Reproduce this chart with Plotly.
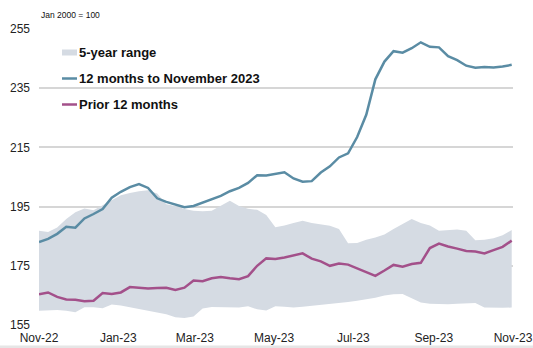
import pandas as pd
import plotly.graph_objects as go

# Weekly observations, Nov 2022 - Oct 2023 (index, Jan 2000 = 100)
dates = pd.date_range("2022-11-01", periods=53, freq="7D")

range_high = [186.8, 186.4, 187.9, 190.8, 193.1, 194.4, 193.8, 195.5, 197.2, 198.8,
              199.6, 200.2, 200.5, 199.4, 195.8, 195.2, 194.2, 193.6, 193.4, 193.6,
              195.3, 197.0, 195.2, 194.3, 193.9, 192.2, 188.0, 188.6, 189.5, 190.2,
              189.5, 189.0, 188.5, 187.4, 182.6, 182.7, 183.8, 184.6, 185.6, 187.4,
              189.1, 190.8, 189.5, 188.6, 186.8, 187.0, 187.3, 186.8, 183.6, 183.8,
              184.3, 185.3, 187.1]

range_low = [159.8, 160.0, 160.1, 159.8, 159.3, 161.0, 161.0, 160.7, 161.9, 161.6,
             161.0, 160.5, 159.8, 159.3, 158.6, 157.6, 157.4, 157.9, 160.6, 161.1,
             161.0, 160.8, 160.9, 161.3, 160.3, 159.9, 161.3, 161.2, 160.9, 161.2,
             161.5, 161.8, 162.0, 162.5, 162.8, 163.2, 163.6, 164.2, 165.0, 165.4,
             165.5, 164.0, 162.6, 162.2, 162.0, 162.0, 162.2, 162.4, 162.4, 160.9,
             160.8, 160.8, 160.9]

latest_12m = [183.0, 184.1, 185.8, 188.2, 187.9, 191.0, 192.5, 194.2, 198.0, 200.0,
              201.6, 202.6, 201.3, 197.8, 196.6, 195.8, 194.8, 195.2, 196.3, 197.4,
              198.6, 200.2, 201.3, 203.0, 205.6, 205.5, 206.0, 206.6, 204.5, 203.4,
              203.6, 206.5, 208.6, 211.6, 213.0, 218.5, 226.0, 238.0, 244.0, 247.5,
              247.0, 248.5, 250.5, 249.0, 248.8, 245.8, 244.5, 242.6, 241.9, 242.2,
              242.0, 242.3, 242.9]

prior_12m = [165.4, 166.0, 164.5, 163.6, 163.5, 163.0, 163.2, 165.8, 165.5, 166.0,
             167.8, 167.6, 167.3, 167.5, 167.6, 166.8, 167.6, 170.0, 169.8, 170.8,
             171.2, 170.8, 170.5, 171.5, 175.0, 177.5, 177.3, 177.8, 178.5, 179.2,
             177.4, 176.5, 175.0, 175.8, 175.4, 174.2, 173.0, 171.6, 173.4, 175.3,
             174.7, 175.6, 176.0, 181.0, 182.5, 181.5, 180.8, 180.0, 179.8, 179.2,
             180.3, 181.4, 183.5]

y_ticks = [155, 175, 195, 215, 235, 255]

SHADE = "#d5dbe3"
BLUE = "#5a8ca4"
PURPLE = "#a3508a"
FONT = "Arial, Liberation Sans, sans-serif"

W, H = 533, 348
ML, MR, MT, MB = 39, 20, 29, 23
PW, PH = W - ML - MR, H - MT - MB


def px(x):
    return (x - ML) / PW


def py(y):
    return (H - MB - y) / PH


fig = go.Figure()
fig.add_trace(go.Scatter(x=dates, y=range_low, mode="lines", line=dict(width=0),
                         showlegend=False, hoverinfo="skip"))
fig.add_trace(go.Scatter(x=dates, y=range_high, mode="lines", line=dict(width=0),
                         fill="tonexty", fillcolor=SHADE, name="5-year range",
                         showlegend=False))
fig.add_trace(go.Scatter(x=dates, y=prior_12m, mode="lines",
                         line=dict(color=PURPLE, width=2.5), name="Prior 12 months",
                         showlegend=False))
fig.add_trace(go.Scatter(x=dates, y=latest_12m, mode="lines",
                         line=dict(color=BLUE, width=2.5),
                         name="12 months to November 2023", showlegend=False))

# Key drawn in the upper-left corner of the plot
legend_rows = [("5-year range", "rect", SHADE, 52.5),
               ("12 months to November 2023", "line", BLUE, 78.5),
               ("Prior 12 months", "line", PURPLE, 104.5)]
shapes = []
annotations = []
for label, kind, color, yc in legend_rows:
    if kind == "rect":
        shapes.append(dict(type="rect", xref="paper", yref="paper",
                           x0=px(62), x1=px(77), y0=py(yc + 3), y1=py(yc - 3),
                           fillcolor=color, line=dict(width=0)))
    else:
        shapes.append(dict(type="line", xref="paper", yref="paper",
                           x0=px(62), x1=px(77), y0=py(yc), y1=py(yc),
                           line=dict(color=color, width=2.5)))
    annotations.append(dict(text=f"<b>{label}</b>", xref="paper", yref="paper",
                            x=px(77), y=py(yc), xanchor="left", yanchor="middle",
                            showarrow=False, font=dict(family=FONT, size=13, color="#111")))

annotations.append(dict(text="Jan 2000 = 100", xref="paper", yref="paper",
                        x=px(39), y=py(15.5), xanchor="left", yanchor="middle",
                        showarrow=False, font=dict(family=FONT, size=8.5, color="#111")))

# thin band along the bottom edge of the page
shapes.append(dict(type="rect", xref="paper", yref="paper",
                   x0=px(0), x1=px(W), y0=py(H), y1=py(H - 2.5),
                   fillcolor="#e6e6e6", line=dict(width=0), layer="below"))

fig.update_layout(
    width=W, height=H,
    margin=dict(l=ML, r=MR, t=MT, b=MB, autoexpand=False),
    paper_bgcolor="white", plot_bgcolor="white",
    font=dict(family=FONT, size=12, color="#222"),
    shapes=shapes, annotations=annotations,
    hovermode=False,
)
fig.update_xaxes(
    type="date", range=["2022-11-01", "2023-11-01"],
    tick0="2022-11-01", dtick="M2", tickformat="%b-%y",
    showgrid=False, zeroline=False, showline=False, automargin=False,
    ticks="", ticklabelstandoff=4,
    tickfont=dict(family=FONT, size=12, color="#222"),
)
fig.update_yaxes(
    range=[155, 255], tickvals=y_ticks, automargin=False,
    showgrid=True, gridcolor="#d6d6d6", gridwidth=1.5,
    zeroline=False, showline=False, ticks="", ticklabelstandoff=8,
    tickfont=dict(family=FONT, size=12, color="#222"),
)

fig.write_html("out.html")
